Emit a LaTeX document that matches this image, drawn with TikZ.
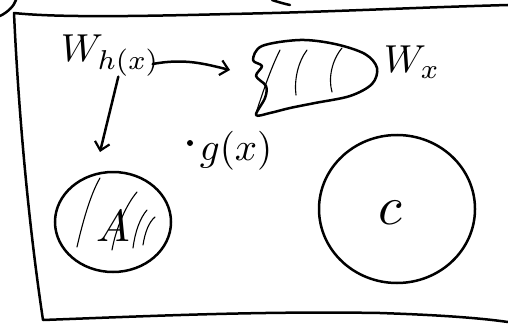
\documentclass[tikz,border=0pt]{standalone}
\usetikzlibrary{shapes.geometric,arrows.meta}
\begin{document}
\begin{tikzpicture}[x=1pt,y=-1pt,
  ink/.style={line width=2.5pt, line cap=round, line join=round},
  hatch/.style={line width=1.1pt, line cap=round},
  arr/.style={ink,-{Straight Barb[length=8pt,width=15pt,line width=2.2pt]}},
  region/.style={ellipse, draw, line width=2.5pt, inner sep=0pt},
  lbl/.style={inner sep=0pt, scale=3.9},
  dotnode/.style={circle, fill, inner sep=0pt, minimum size=6pt}]
\useasboundingbox (0,0) rectangle (508,326);
% frame
\draw[ink] (508,5) .. controls (400,8) and (330,12) .. (230,14) .. controls (150,16) and (60,18) .. (14,13)
  .. controls (17,80) and (25,200) .. (43,320)
  .. controls (150,316) and (260,311) .. (380,313) .. controls (440,315) and (480,318) .. (508,322);
% fragments at top edge
\draw[ink] (0,16) .. controls (8,12) and (14,6) .. (16,0);
\draw[ink] (272,0) .. controls (278,2) and (285,4) .. (290,5);
% labels
\node[lbl, anchor=base west] (wh) at (60,62) {$W_{h(x)}$};
\node[lbl, anchor=base west] (wxl) at (383,73) {$W_x$};
\node[dotnode] (gdot) at (190,143) {};
\node[lbl, anchor=base west] (gx) at (199,160) {$g(x)$};
% blob W_x
\draw[ink] plot[smooth cycle, tension=0.55] coordinates {(262,46) (300,40) (335,44) (365,54) (377,68) (372,84) (350,96) (315,103) (290,108) (270,113) (256,115) (265,98) (266,86) (256,76) (262,66) (253,60)};
\coordinate (wxtip) at (230,70);
\draw[hatch] (256,113) .. controls (262,95) and (270,70) .. (280,50);
\draw[hatch] (296,95) .. controls (294,80) and (298,62) .. (307,50);
\draw[hatch] (332,92) .. controls (328,78) and (332,60) .. (342,48);
% regions
\node[region, minimum width=116pt, minimum height=100pt] (A) at (113,222) {};
\node[region, minimum width=156pt, minimum height=148pt] (C) at (397,209) {};
\node[lbl, scale=1.15] (Alab) at (113,226) {$A$};
\node[lbl, scale=1.4] (Clab) at (390,213) {$c$};
\draw[hatch] (77,247) .. controls (82,225) and (90,195) .. (100,178);
\draw[hatch] (112,250) .. controls (116,228) and (126,205) .. (137,192);
\draw[hatch] (133,248) .. controls (135,232) and (140,218) .. (147,210);
\draw[hatch] (143,245) .. controls (145,232) and (149,222) .. (155,217);
% arrows
\coordinate (atip) at (100,152);
\draw[arr] ([xshift=-8pt,yshift=-2pt]wh.base east) .. controls (185,58) and (205,64) .. (wxtip);
\draw[arr] ([xshift=8pt]wh.south) -- (atip);
\end{tikzpicture}
\end{document}
